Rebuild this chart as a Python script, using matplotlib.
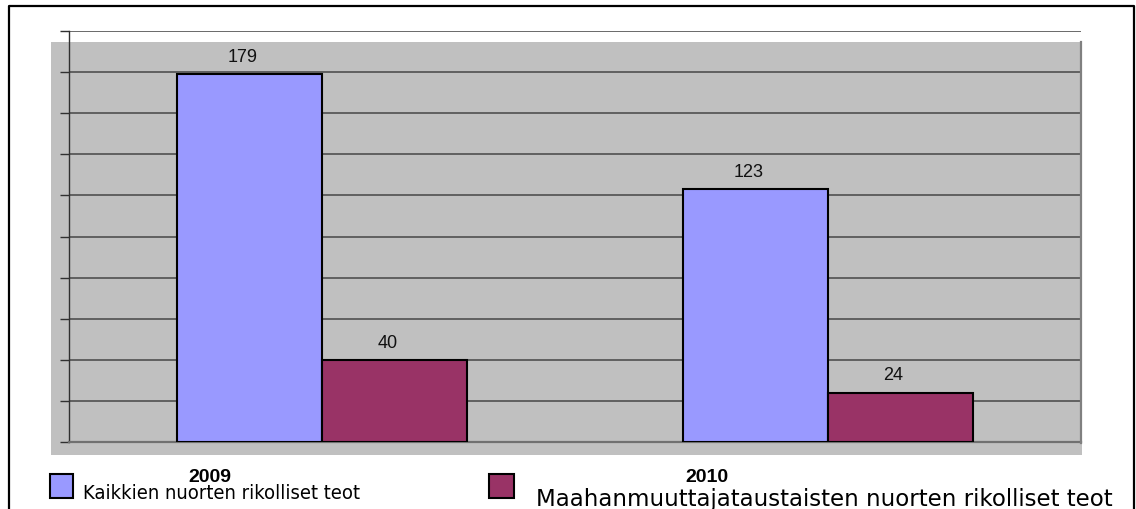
import numpy as np
import matplotlib
matplotlib.use("Agg")
import matplotlib.pyplot as plt
from matplotlib.patches import Rectangle
from matplotlib.lines import Line2D

# chart data
years = ["2009", "2010"]
series_names = [
    "Kaikkien nuorten rikolliset teot",
    "Maahanmuuttajataustaisten nuorten rikolliset teot",
]
all_youth = [179, 123]
immigrant_youth = [40, 24]
colors = ["#9999FF", "#993366"]

W, H = 1136, 510


def fx(px):
    return px / W


def fy(py):
    return 1 - py / H


fig = plt.figure(figsize=(W / 100, H / 100), dpi=100)

# gray wall of the pseudo-3D chart (offset from the plot frame)
fig.patches.append(Rectangle((fx(51), fy(456)), fx(1082) - fx(51), fy(43) - fy(456),
                             transform=fig.transFigure, facecolor="#C0C0C0",
                             edgecolor="none", zorder=-5))

ax = fig.add_axes([fx(69), fy(443), fx(1081) - fx(69), fy(32) - fy(443)])
ax.set_facecolor("none")

x = np.arange(len(years))
w = 0.2866
bars1 = ax.bar(x - w / 2, all_youth, w, color=colors[0], edgecolor="black", linewidth=1.5, zorder=3)
bars2 = ax.bar(x + w / 2, immigrant_youth, w, color=colors[1], edgecolor="black", linewidth=1.5, zorder=3)

for bars, vals in [(bars1, all_youth), (bars2, immigrant_youth)]:
    for b, v in zip(bars, vals):
        ax.annotate(str(v), (b.get_x() + b.get_width() / 2, v), xytext=(-5, 9.5),
                    textcoords="offset points", ha="center", va="baseline",
                    fontsize=13, family="Liberation Sans", color="#111111")

ax.set_xlim(-0.5, 1.5)
ax.set_ylim(0, 200)
ax.set_yticks(np.arange(0, 201, 20))
ax.set_yticklabels([])
ax.set_xticks([])
ax.yaxis.grid(True, color="#505050", linewidth=1.2, zorder=1)
ax.set_axisbelow(True)
ax.tick_params(axis="y", direction="out", length=6.5, width=1, color="#303030")
ax.spines["left"].set_color("#303030")
ax.spines["left"].set_linewidth(1)
ax.spines["bottom"].set_color("#707070")
ax.spines["bottom"].set_linewidth(1.6)
ax.spines["top"].set_visible(False)
ax.spines["right"].set_visible(False)

# right edge of the wall
fig.lines.append(Line2D([fx(1081), fx(1081)], [fy(43), fy(444)], transform=fig.transFigure,
                        color="#808080", linewidth=1.6, zorder=5))

# category labels (shifted like in the original 3D layout)
for label, px, py in zip(years, [210, 707], [482, 482]):
    fig.text(fx(px), fy(py), label, ha="center", va="baseline", fontsize=14,
             fontweight="bold", family="Liberation Sans", zorder=5)

# legend
for (px0, py0, px1, py1), col, name, tx, ty, fs, st in [
    ((50, 475, 73, 499), colors[0], series_names[0], 83, 499, 14.5, "condensed"),
    ((489, 475, 514, 499), colors[1], series_names[1], 536, 506, 16.5, "normal"),
]:
    fig.patches.append(Rectangle((fx(px0), fy(py1)), fx(px1) - fx(px0), fy(py0) - fy(py1),
                                 transform=fig.transFigure, facecolor=col,
                                 edgecolor="black", linewidth=1.5, zorder=5))
    fig.text(fx(tx), fy(ty), name, ha="left", va="baseline", fontsize=fs,
             family="DejaVu Sans", fontstretch=st, zorder=5)

# outer frame
fig.lines.append(Line2D([fx(9), fx(9), fx(1134), fx(1134)], [0, fy(7), fy(7), 0],
                        transform=fig.transFigure, color="black", linewidth=1.6, zorder=5))

fig.savefig("out.png", dpi=100)
